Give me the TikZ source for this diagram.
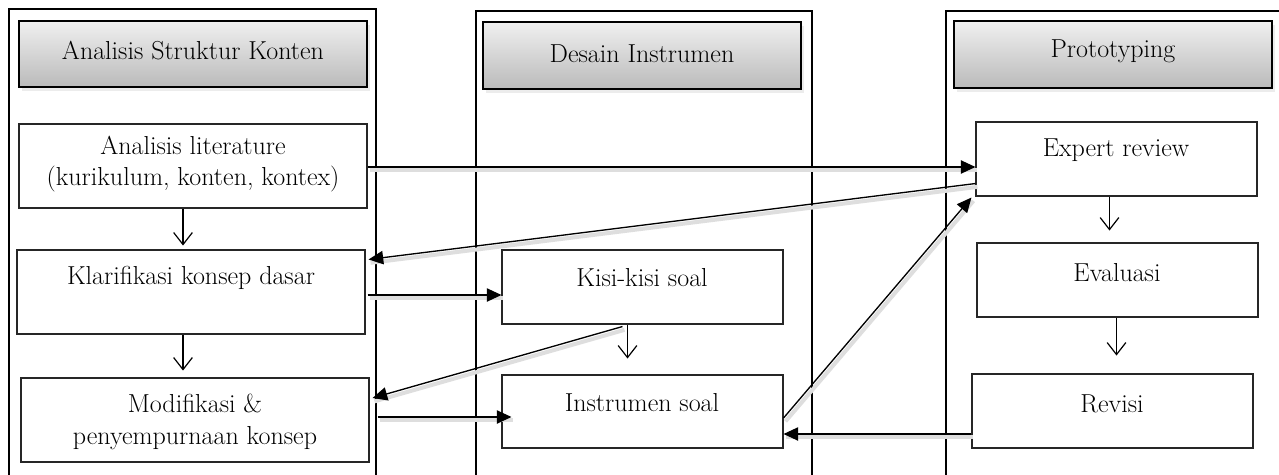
\documentclass[tikz,border=0pt]{standalone}
\usetikzlibrary{arrows.meta,calc,fit,shadows}
\begin{document}
\begin{tikzpicture}[x=0.75pt,y=-0.75pt,
  every node/.style={font=\fontsize{19.5}{23.5}\selectfont},
  column/.style={draw=black, line width=1pt},
  header/.style={draw=black, line width=1.2pt, inner sep=0pt, top color=black!6, bottom color=black!27,
     drop shadow={opacity=0.15, shadow xshift=2pt, shadow yshift=-3pt}},
  box/.style={draw=black!85, line width=0.8pt, inner sep=0pt, fill=white},
  lbl/.style={inner sep=0pt, align=center},
  shad/.style={preaction={draw=black!13, line width=3pt, -, transform canvas={shift={(1.5pt,-2.5pt)}}}},
  arr/.style={line width=1pt, -{Triangle[length=11pt,width=10pt]}, shad},
  varr/.style={line width=0.9pt, -{Straight Barb[length=9pt,width=14pt,line width=0.9pt]}}
]
\useasboundingbox (0,0) rectangle (1279,475);
\fill[white] (0,0) rectangle (1279,475);
% columns
\begin{scope}
  \clip (0,0) rectangle (1279,475);
  \draw[column] (9,9) rectangle (376,495);
  \draw[column] (476,11) rectangle (812,495);
  \draw[column] (946,11) rectangle (1300,495);
\end{scope}
% headers
\node[header, fit={(19,21) (367,87)}] (hA) {};
\node[header, fit={(483,22) (801,89)}] (hB) {};
\node[header, fit={(954,21) (1272,88)}] (hC) {};
\node[lbl] (tA) at ($(hA.center)+(0,-3)$) {Analisis Struktur Konten};
\node[lbl] (tB) at ($(hB.center)+(0,-2)$) {Desain Instrumen};
\node[lbl] (tC) at ($(hC.center)+(0,-3)$) {Prototyping};
% boxes
\node[box, fit={(19,124) (367,208)}] (lit) {};
\node[box, fit={(17,250) (365,334)}] (klar) {};
\node[box, fit={(21,378) (369,462)}] (modif) {};
\node[box, fit={(502,250) (783,324)}] (kisi) {};
\node[box, fit={(502,375) (783,448)}] (instr) {};
\node[box, fit={(976,122) (1257,196)}] (expert) {};
\node[box, fit={(977,243) (1258,317)}] (eval) {};
\node[box, fit={(972,374) (1253,448)}] (rev) {};
% texts
\node[lbl] (tlit) at (193,164) {Analisis literature\\(kurikulum, konten, kontex)};
\node[lbl] (tklar) at (191,278) {Klarifikasi konsep dasar};
\node[lbl] (tmodif) at (195,422) {Modifikasi \&\\penyempurnaan konsep};
\node[lbl] (tkisi) at (642,278) {Kisi-kisi soal};
\node[lbl] (tinstr) at (642,403) {Instrumen soal};
\node[lbl] (texpert) at (1116,150) {Expert review};
\node[lbl] (teval) at (1117,273) {Evaluasi};
\node[lbl] (trev) at (1112,404) {Revisi};
% horizontal / diagonal arrows
\draw[arr] ($(lit.east)+(0,1)$) -- ($(expert.west)+(0,8)$);
\draw[arr] ($(expert.south west)+(0,-13)$) -- ($(klar.north east)+(3,10)$);
\draw[arr] ($(klar.east)+(2,3)$) -- ($(kisi.west)+(0,8)$);
\draw[arr] ($(kisi.south)+(-20,2)$) -- ($(modif.east)+(3,-22)$);
\draw[arr] ($(modif.east)+(8,-3)$) -- ($(instr.west)+(10,5.5)$);
\draw[arr] ($(instr.east)+(0,6.5)$) -- ($(expert.south west)+(-4,1)$);
\draw[arr] ($(rev.west)+(0,23)$) -- ($(instr.east)+(0,22.5)$);
% vertical arrows
\draw[varr] ($(lit.south)+(-10,0)$) -- ++(0,37);
\draw[varr] ($(klar.south)+(-8,0)$) -- ++(0,36);
\draw[varr] ($(kisi.south)+(-15,0)$) -- ++(0,34);
\draw[varr] ($(expert.south)+(-7,0)$) -- ++(0,34);
\draw[varr] ($(eval.south)+(-1,0)$) -- ++(0,38);
\end{tikzpicture}
\end{document}
